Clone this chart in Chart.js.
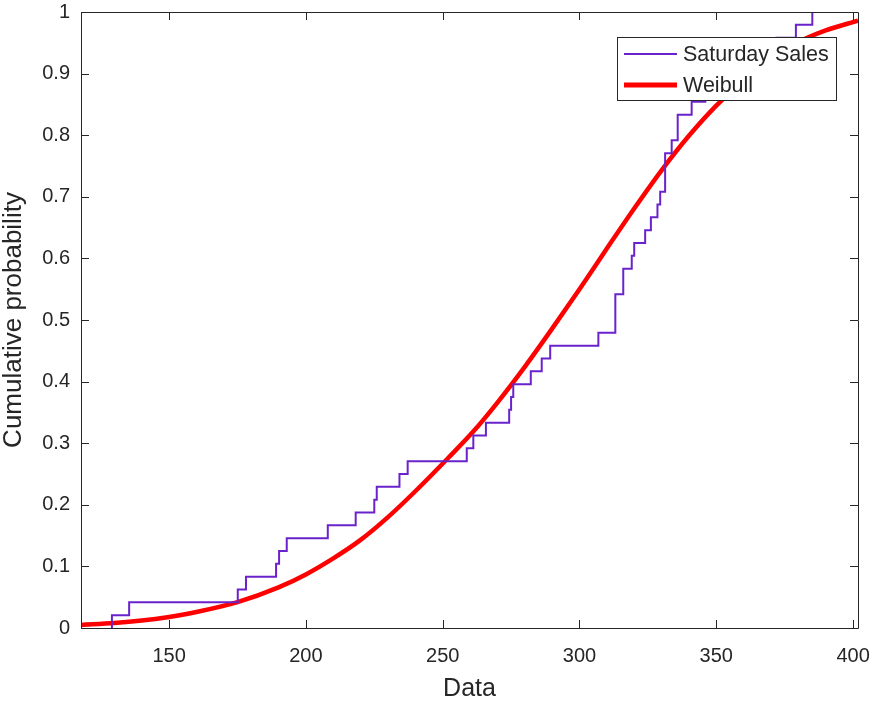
<!DOCTYPE html>
<html>
<head>
<meta charset="utf-8">
<script src="https://cdn.jsdelivr.net/npm/chart.js@4.4.1/dist/chart.umd.min.js"></script>
<style>
  html, body { margin: 0; padding: 0; background: #fff; }
  #wrap { width: 874px; height: 702px; }
</style>
</head>
<body>
<div id="wrap"><canvas id="cdfChart" width="874" height="702"></canvas></div>
<script>
// Saturday sales sample (sorted), read from the step positions of the empirical CDF
const saturdaySales = [
  129.1, 135.4, 175.1, 178.1, 189.1, 190.2, 193.0, 208.0, 218.2, 225.0,
  225.9, 234.2, 237.2, 258.8, 261.2, 265.8, 274.3, 275.0, 275.8, 282.2,
  286.2, 289.3, 306.9, 313.1, 313.1, 313.1, 316.0, 316.0, 319.1, 320.0,
  324.0, 326.1, 328.5, 329.5, 331.3, 331.3, 331.3, 333.7, 335.9, 335.9,
  341.0, 346.0, 352.0, 360.0, 366.0, 372.0, 379.1, 385.1
];

// fitted Weibull cdf
const weibullX = [117.8, 130, 140, 150, 160, 175, 190, 200, 210, 220, 230, 240, 252, 261,
  270, 280, 290, 300, 310, 320, 330, 340, 350, 360, 370, 380, 390, 401.8];
const weibullP = [0.005, 0.008, 0.012, 0.018, 0.026, 0.042, 0.066, 0.087, 0.113, 0.143, 0.180,
  0.222, 0.276, 0.318, 0.366, 0.424, 0.486, 0.550, 0.616, 0.681, 0.743, 0.799, 0.848, 0.889,
  0.922, 0.951, 0.970, 0.986];

const xTicks = [150, 200, 250, 300, 350, 400];
const yTicks = [0, 0.1, 0.2, 0.3, 0.4, 0.5, 0.6, 0.7, 0.8, 0.9, 1];

const axisColor = '#262626';
const salesColor = '#6a23cc';
const weibullColor = '#ff0000';
const fontFamily = '"Liberation Sans", Arial, Helvetica, sans-serif';

// empirical cdf points from the sample
function ecdfPoints(sample) {
  const n = sample.length;
  const pts = [{ x: sample[0], y: 0 }];
  sample.forEach((v, i) => {
    if (i < n - 1 && sample[i + 1] === v) return;
    pts.push({ x: v, y: (i + 1) / n });
  });
  return pts;
}

const frameAndLegend = {
  id: 'frameAndLegend',
  afterDraw(chart) {
    const { ctx, chartArea: a, scales } = chart;
    ctx.save();
    ctx.strokeStyle = axisColor;
    ctx.lineWidth = 1;
    ctx.beginPath();
    ctx.rect(Math.round(a.left) + 0.5, Math.round(a.top) + 0.5,
      Math.round(a.right - a.left), Math.round(a.bottom - a.top));
    ctx.stroke();
    // inward ticks on all four sides
    const tl = 8;
    ctx.beginPath();
    xTicks.forEach(v => {
      const px = Math.round(scales.x.getPixelForValue(v)) + 0.5;
      ctx.moveTo(px, a.bottom); ctx.lineTo(px, a.bottom - tl);
      ctx.moveTo(px, a.top); ctx.lineTo(px, a.top + tl);
    });
    yTicks.forEach(v => {
      const py = Math.round(scales.y.getPixelForValue(v)) + 0.5;
      ctx.moveTo(a.left, py); ctx.lineTo(a.left + tl, py);
      ctx.moveTo(a.right, py); ctx.lineTo(a.right - tl, py);
    });
    ctx.stroke();

    // legend box
    const lx = 617, ly = 37, lw = 219, lh = 63;
    ctx.fillStyle = '#ffffff';
    ctx.fillRect(lx, ly, lw, lh);
    ctx.strokeStyle = axisColor;
    ctx.strokeRect(lx + 0.5, ly + 0.5, lw, lh);
    const items = [
      { label: chart.data.datasets[0].label, color: salesColor, width: 2, y: 54 },
      { label: chart.data.datasets[1].label, color: weibullColor, width: 5, y: 85 }
    ];
    ctx.font = '21.5px ' + fontFamily;
    ctx.textBaseline = 'middle';
    ctx.textAlign = 'left';
    items.forEach(it => {
      ctx.strokeStyle = it.color;
      ctx.lineWidth = it.width;
      ctx.beginPath();
      ctx.moveTo(624, it.y); ctx.lineTo(677, it.y);
      ctx.stroke();
      ctx.fillStyle = axisColor;
      ctx.fillText(it.label, 683, it.y + 1);
    });
    ctx.restore();
  }
};

const ctx = document.getElementById('cdfChart').getContext('2d');
new Chart(ctx, {
  type: 'line',
  data: {
    datasets: [
      { label: 'Saturday Sales', data: ecdfPoints(saturdaySales), borderColor: salesColor,
        borderWidth: 2, stepped: 'before', pointRadius: 0, fill: false },
      { label: 'Weibull', data: weibullX.map((x, i) => ({ x, y: weibullP[i] })), borderColor: weibullColor,
        borderWidth: 4.5, cubicInterpolationMode: 'monotone', pointRadius: 0, fill: false }
    ]
  },
  options: {
    responsive: false,
    animation: false,
    devicePixelRatio: 1,
    layout: { padding: { top: 12, right: 16, left: 0, bottom: 0 } },
    plugins: { legend: { display: false }, tooltip: { enabled: false } },
    scales: {
      x: {
        type: 'linear', min: 117.8, max: 401.8,
        afterBuildTicks: s => { s.ticks = xTicks.map(v => ({ value: v })); },
        afterFit: s => { s.height = 74; s.paddingLeft = 0; s.paddingRight = 0; },
        grid: { display: false, drawTicks: false },
        border: { display: false },
        ticks: { color: axisColor, font: { family: fontFamily, size: 20 }, padding: 16, maxRotation: 0 },
        title: { display: true, text: 'Data', color: axisColor,
          font: { family: fontFamily, size: 25, lineHeight: 1 }, padding: 0 }
      },
      y: {
        type: 'linear', min: 0, max: 1,
        afterBuildTicks: s => { s.ticks = yTicks.map(v => ({ value: v })); },
        afterFit: s => { s.width = 81; s.paddingTop = 0; s.paddingBottom = 0; },
        grid: { display: false, drawTicks: false },
        border: { display: false },
        ticks: { color: axisColor, font: { family: fontFamily, size: 20 }, padding: 11,
          callback: v => String(Math.round(v * 10) / 10) },
        title: { display: true, text: 'Cumulative probability', color: axisColor,
          font: { family: fontFamily, size: 26, lineHeight: 1.1 }, padding: { top: 0, bottom: 0 } }
      }
    }
  },
  plugins: [frameAndLegend]
});
</script>
</body>
</html>
